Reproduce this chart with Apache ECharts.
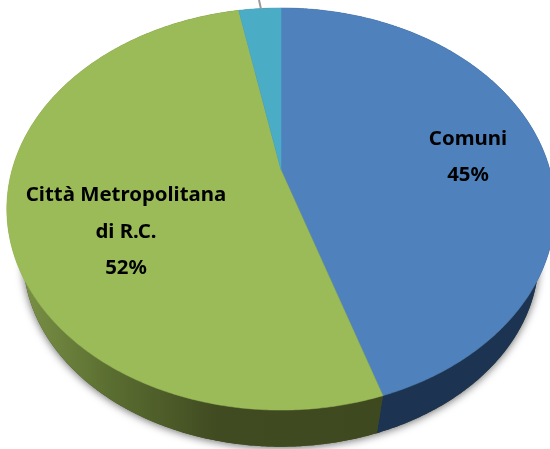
<!DOCTYPE html>
<html><head><meta charset="utf-8">
<style>html,body{margin:0;padding:0;background:#fff}#c{width:550px;height:449px}</style>
<script src="https://cdn.jsdelivr.net/npm/echarts@6/dist/echarts.min.js"></script>
</head><body><div id="c"></div>
<script>
var categories = ['Comuni', 'Città Metropolitana\ndi R.C.', ''];
var shareValues = [45, 52, 3];

var topColors = ['#4F81BD', '#9BBB59', '#4BACC6'];
var sideColors = ['#1D3352', null, '#2A6070'];
var labelAnchors = [[468, 157], [126, 232], null];

// perspective projection of the pie disc
var K = 0.194, AX = 269, BY = 193.5, CX = 281, TOP_Y = 170, BOT_Y = 221, BOT_S = 0.94;
function project(deg, baseY, s) {
  var t = deg * Math.PI / 180, u = Math.sin(t), v = -Math.cos(t), w = 1 - K * v;
  return [CX + s * AX * u / w, baseY + s * BY * v / w];
}
function arc(from, to, baseY, s) {
  var pts = [], n = Math.max(2, Math.ceil(Math.abs(to - from) * 2));
  for (var i = 0; i <= n; i++) pts.push(project(from + (to - from) * i / n, baseY, s));
  return pts;
}
var total = shareValues.reduce(function (a, b) { return a + b; }, 0);
var sliceData = [], acc = 0;
shareValues.forEach(function (v, i) {
  sliceData.push({ value: [v, acc, i], name: categories[i] });
  acc += v;
});
function angles(api) {
  var v = api.value(0), s = api.value(1);
  return [s / total * 360, (s + v) / total * 360, api.value(2)];
}
var greenSide = new echarts.graphic.LinearGradient(20, 0, 377, 0, [
  { offset: 0, color: '#7A9146' }, { offset: 0.25, color: '#5B6E31' },
  { offset: 0.55, color: '#404B21' }, { offset: 1, color: '#3E4920' }
], true);

var chart = echarts.init(document.getElementById('c'), null, { renderer: 'canvas' });
chart.setOption({
  animation: false,
  backgroundColor: '#fff',
  graphic: [{
    type: 'line', z: 20, silent: true,
    shape: { x1: 259, y1: 0, x2: 261, y2: 9 },
    style: { stroke: '#9A9A9A', lineWidth: 2 }
  }],
  series: [{
    type: 'custom', coordinateSystem: 'none', z: 1, silent: true, data: [{ value: [total] }],
    renderItem: function () {
      return { type: 'polygon', shape: { points: arc(0, 360, BOT_Y, BOT_S) },
        style: { fill: '#3E4920', shadowBlur: 9, shadowColor: 'rgba(0,0,0,0.6)', shadowOffsetY: 1 } };
    }
  }, {
    type: 'custom', coordinateSystem: 'none', z: 2, silent: true, data: sliceData,
    renderItem: function (p, api) {
      var a = angles(api), fill = sideColors[a[2]] || greenSide;
      var pts = arc(a[0], a[1], TOP_Y, 1).concat(arc(a[1], a[0], BOT_Y, BOT_S));
      return { type: 'polygon', shape: { points: pts }, style: { fill: fill } };
    }
  }, {
    type: 'custom', coordinateSystem: 'none', z: 3, silent: true, data: sliceData,
    renderItem: function (p, api) {
      var a = angles(api), c = topColors[a[2]];
      var pts = [[CX, TOP_Y]].concat(arc(a[0], a[1], TOP_Y, 1));
      return { type: 'polygon', shape: { points: pts }, style: { fill: c, stroke: c, lineWidth: 0.5 } };
    }
  }, {
    type: 'custom', coordinateSystem: 'none', z: 4, silent: true, data: sliceData,
    renderItem: function (p, api) {
      var i = api.value(2), at = labelAnchors[i];
      if (!at) return null;
      return { type: 'text', x: at[0], y: at[1], style: {
        text: categories[i] + '\n' + api.value(0) + '%',
        font: 'bold 20.4px "Noto Sans", sans-serif',
        fill: '#000', align: 'center', verticalAlign: 'middle', lineHeight: 36.5 } };
    }
  }]
});
</script></body></html>
